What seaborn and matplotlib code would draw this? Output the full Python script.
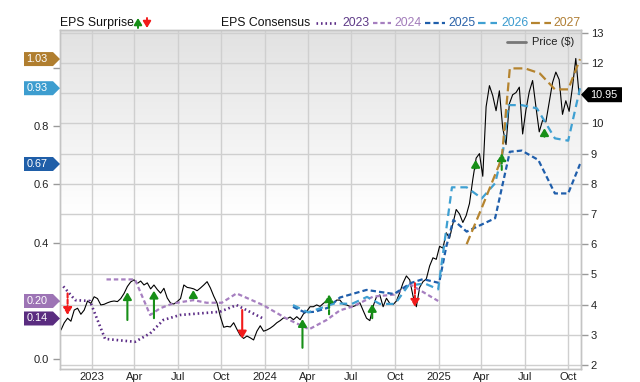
import numpy as np
import pandas as pd
import matplotlib
matplotlib.use("Agg")
import matplotlib.pyplot as plt
import matplotlib.dates as mdates
import matplotlib.transforms as mtransforms
from matplotlib.patches import Polygon
from matplotlib.lines import Line2D
from matplotlib.ticker import FuncFormatter
import seaborn as sns

# ---------------- data ----------------
price_start = "2022-10-28"
price_values = [
    3.16, 3.40, 3.55, 3.45, 3.82, 3.88, 3.68, 3.82, 4.12, 4.04,
    4.26, 4.20, 3.99, 4.01, 4.06, 4.10, 4.12, 4.10, 4.20, 4.37,
    4.60, 4.75, 4.82, 4.70, 4.78, 4.65, 4.72, 4.52, 4.65, 4.50,
    4.38, 4.54, 4.22, 4.05, 4.02, 4.10, 4.20, 4.65, 4.57, 4.55,
    4.52, 4.46, 4.55, 4.65, 4.76, 4.55, 4.28, 4.05, 3.60, 3.25,
    3.28, 3.26, 3.40, 3.18, 2.98, 2.88, 2.96, 2.90, 2.83, 3.12,
    3.30, 3.12, 3.16, 3.22, 3.30, 3.40, 3.47, 3.56, 3.53, 3.59,
    3.50, 3.60, 3.50, 3.69, 3.78, 3.93, 3.93, 3.99, 3.94, 4.04,
    4.12, 4.03, 4.05, 4.15, 4.15, 4.01, 3.99, 3.94, 3.94, 3.98,
    4.06, 3.80, 3.55, 3.47, 3.95, 4.26, 4.32, 3.93, 4.21, 4.04,
    4.00, 4.12, 4.40, 4.72, 4.95, 4.82, 4.28, 3.93, 4.57, 4.76,
    4.85, 5.28, 5.55, 5.50, 5.93, 5.87, 6.38, 6.20, 6.67, 7.15,
    7.00, 6.72, 6.95, 7.35, 8.15, 8.85, 9.00, 8.25, 10.55, 11.25,
    10.92, 10.42, 11.08, 9.85, 9.30, 10.65, 10.95, 11.02, 11.20, 9.65,
    10.45, 11.05, 11.42, 10.55, 9.72, 10.10, 10.05, 10.70, 11.35, 11.70,
    11.45, 10.30, 10.75, 10.40, 11.20, 12.15, 10.95,
]

c2023_dates = ["2022-11-02", "2022-11-27", "2022-12-28", "2023-01-29", "2023-04-02",
               "2023-05-04", "2023-06-01", "2023-07-06", "2023-09-28", "2023-11-02",
               "2023-12-28"]
c2023_values = [0.25, 0.203, 0.20, 0.07, 0.06, 0.089, 0.135, 0.152, 0.163, 0.186, 0.14]

c2024_dates = ["2023-02-01", "2023-04-02", "2023-05-04", "2023-05-25", "2023-06-22",
               "2023-08-03", "2023-08-31", "2023-10-02", "2023-11-02", "2023-12-28",
               "2024-02-15", "2024-04-03", "2024-05-10", "2024-06-07", "2024-07-02",
               "2024-08-16", "2024-09-29", "2024-11-02", "2024-12-31"]
c2024_values = [0.274, 0.274, 0.152, 0.175, 0.192, 0.203, 0.194, 0.194, 0.226, 0.186,
                0.14, 0.103, 0.135, 0.168, 0.18, 0.215, 0.222, 0.257, 0.20]

c2025_dates = ["2024-02-29", "2024-03-25", "2024-04-15", "2024-05-13", "2024-06-07",
               "2024-08-02", "2024-09-29", "2024-11-04", "2024-11-29", "2025-01-02",
               "2025-01-17", "2025-02-01", "2025-03-01", "2025-04-30", "2025-05-31",
               "2025-06-25", "2025-07-30", "2025-09-03", "2025-10-01", "2025-10-26"]
c2025_values = [0.18, 0.161, 0.163, 0.177, 0.212, 0.238, 0.224, 0.262, 0.275, 0.262,
                0.386, 0.478, 0.438, 0.484, 0.712, 0.716, 0.684, 0.569, 0.569, 0.67]

c2026_dates = ["2024-02-29", "2024-04-01", "2024-05-27", "2024-07-02", "2024-08-03",
               "2024-08-30", "2024-10-01", "2024-10-29", "2024-12-03", "2024-12-31",
               "2025-01-29", "2025-03-01", "2025-04-02", "2025-04-30", "2025-05-17",
               "2025-05-28", "2025-06-25", "2025-07-27", "2025-09-03", "2025-10-01",
               "2025-10-26"]
c2026_values = [0.186, 0.161, 0.192, 0.19, 0.214, 0.19, 0.19, 0.253, 0.26, 0.24,
                0.59, 0.59, 0.552, 0.604, 0.718, 0.872, 0.872, 0.861, 0.758, 0.75, 0.93]

c2027_dates = ["2025-03-01", "2025-04-02", "2025-05-14", "2025-05-31", "2025-07-02",
               "2025-08-02", "2025-09-03", "2025-10-01", "2025-10-26"]
c2027_values = [0.395, 0.52, 0.69, 0.998, 0.998, 0.981, 0.926, 0.926, 1.03]

# EPS surprise arrows (drawn at the price line, in $)
surprise_dates = ["2022-11-11", "2023-03-17", "2023-05-12", "2023-08-03", "2023-11-14",
                  "2024-03-20", "2024-05-15", "2024-08-14", "2024-11-12", "2025-03-20",
                  "2025-05-14", "2025-08-12"]
surprise_from = [4.37, 3.49, 3.55, 4.21, 3.82, 2.57, 3.68, 3.55, 4.71, 8.51, 8.46, 9.56]
surprise_to = [3.66, 4.41, 4.46, 4.48, 2.88, 3.52, 4.34, 4.02, 3.93, 8.79, 9.01, 9.84]
surprise_dashed = [True, False, False, False, False, False, True, False, True, False, True, False]

years = ["2023", "2024", "2025", "2026", "2027"]
line_colors = ["#5b2c86", "#a67fc0", "#1f5eab", "#3fa0d2", "#b5842f"]
text_colors = ["#5e3a87", "#a27cba", "#2a62a8", "#3d9ccf", "#b07f35"]
badge_colors = ["#5a2c80", "#9d74b5", "#1f5ea8", "#3d9dcf", "#b07e2f"]
dash_patterns = [(0.6, 1.1), (2.0, 1.3), (2.4, 1.4), (3.4, 2.2), (4.0, 2.0)]
line_widths = [1.9, 1.6, 1.6, 1.6, 1.6]

series_dates = [c2023_dates, c2024_dates, c2025_dates, c2026_dates, c2027_dates]
series_values = [c2023_values, c2024_values, c2025_values, c2026_values, c2027_values]

# ---------------- style ----------------
sns.set_theme(style="white")
plt.rcParams["font.family"] = ["Liberation Sans", "DejaVu Sans"]

W, H = 640, 382
fig = plt.figure(figsize=(W / 100, H / 100), dpi=100)
fig.patch.set_facecolor("white")

L, R, T, B = 60, 581, 30, 369
rect = [L / W, 1 - B / H, (R - L) / W, (B - T) / H]

# gradient background
bg = fig.add_axes(rect, zorder=-1)
top_c = np.array([0.885, 0.885, 0.885])
t = np.linspace(0, 1, 200)
fade = np.clip(1 - t / 0.55, 0, 1)
grad = 1 - fade[:, None, None] * (1 - top_c[None, None, :])
grad = np.repeat(grad, 2, axis=1)
bg.imshow(grad, aspect="auto", extent=[0, 1, 0, 1], interpolation="bilinear")
bg.set_axis_off()

ax = fig.add_axes(rect)
ax.patch.set_visible(False)

price_df = pd.DataFrame({
    "date": pd.date_range(price_start, periods=len(price_values), freq="7D"),
    "price": price_values,
})

sns.lineplot(data=price_df, x="date", y="price", ax=ax, color="black", lw=0.8,
             estimator=None, sort=False, zorder=3)

ax_eps = ax.twinx()
ax_eps.patch.set_visible(False)

for yr, dts, vals, col, dp, lw in zip(years, series_dates, series_values, line_colors,
                                       dash_patterns, line_widths):
    df = pd.DataFrame({"date": pd.to_datetime(dts), "eps": vals})
    sns.lineplot(data=df, x="date", y="eps", ax=ax_eps, color=col, lw=lw,
                 estimator=None, sort=False, zorder=2)
    ln = ax_eps.get_lines()[-1]
    ln.set_linestyle((0, dp))
    ln.set_dash_capstyle("butt")

# limits
ax.set_xlim(pd.Timestamp("2022-10-26"), pd.Timestamp("2025-10-28"))
ax.set_ylim(1.868, 13.093)
ax_eps.set_ylim(-0.0333, 1.1297)

# arrows on top, in price units
astyle = "-|>,head_length=0.6,head_width=0.36"
for d, p0, p1, dsh in zip(surprise_dates, surprise_from, surprise_to, surprise_dashed):
    xn = mdates.date2num(pd.Timestamp(d))
    col = "#178f17" if p1 > p0 else "#f21a1a"
    ax_eps.annotate("", xy=(xn, p1), xytext=(xn, p0), xycoords=ax.transData,
                    textcoords=ax.transData,
                    arrowprops=dict(arrowstyle=astyle, mutation_scale=7, color=col, lw=1.5,
                                    shrinkA=0, shrinkB=0,
                                    linestyle=(0, (2, 1)) if dsh else "-"),
                    zorder=5)

# axes / ticks
def xfmt(x, pos):
    d = mdates.num2date(x)
    return str(d.year) if d.month == 1 else d.strftime("%b")

ax.xaxis.set_major_locator(mdates.MonthLocator(bymonth=[1, 4, 7, 10]))
ax.xaxis.set_major_formatter(FuncFormatter(xfmt))
ax.yaxis.tick_right()
price_ticks = list(range(2, 14))
ax.set_yticks(price_ticks)
price_last = price_values[-1]
ax.set_yticklabels(["" if abs(p - price_last) < 0.3 else str(p) for p in price_ticks])

last_vals = [v[-1] for v in series_values]
eps_ticks = [0.0, 0.2, 0.4, 0.6, 0.8, 1.0]
ax_eps.yaxis.tick_left()
ax_eps.set_yticks(eps_ticks)
ax_eps.set_yticklabels(["" if min(abs(e - v) for v in last_vals) < 0.045 else f"{e:.1f}"
                        for e in eps_ticks])

grid_c = "#cfcfcf"
ax.grid(True, color=grid_c, lw=1.0)
ax.set_axisbelow(True)
ax_eps.grid(False)
for a in (ax, ax_eps):
    a.set_xlabel("")
    a.set_ylabel("")
    for s in a.spines.values():
        s.set_color("#c4c4c4")
        s.set_linewidth(1.0)

ax.tick_params(axis="x", length=0, pad=2.5, labelsize=8, labelcolor="#222222")
ax.tick_params(axis="y", right=True, left=False, length=5, width=1, color="#9a9a9a",
               pad=2, labelsize=8, labelcolor="#222222")
ax_eps.tick_params(axis="y", left=True, right=False, length=5, width=1, color="#9a9a9a",
                   pad=3, labelsize=8, labelcolor="#222222")

# ---------------- legend (top) ----------------
def fx(px):
    return px / W

def fy(py):
    return 1 - py / H

fig.text(fx(60), fy(23), "EPS Surprise", fontsize=8.8, va="center", ha="left", color="#111111")
ax.annotate("", xy=(138, H - 18), xytext=(138, H - 28), xycoords="figure pixels",
            textcoords="figure pixels", annotation_clip=False,
            arrowprops=dict(arrowstyle=astyle, mutation_scale=6.5,
                            color="#178f17", lw=1.4, shrinkA=0, shrinkB=0))
ax.annotate("", xy=(147, H - 28), xytext=(147, H - 18), xycoords="figure pixels",
            textcoords="figure pixels", annotation_clip=False,
            arrowprops=dict(arrowstyle=astyle, mutation_scale=6.5,
                            color="#f21a1a", lw=1.4, shrinkA=0, shrinkB=0))
fig.text(fx(221), fy(23), "EPS Consensus", fontsize=8.8, va="center", ha="left", color="#111111")

leg_line_x = [(316, 336), (373, 391), (425, 445), (478, 497), (531, 551)]
leg_text_x = [342, 394, 448, 501, 553]
for yr, col, tcol, dp, lw, (x0, x1), tx in zip(years, line_colors, text_colors, dash_patterns,
                                                 line_widths, leg_line_x, leg_text_x):
    fig.add_artist(Line2D([fx(x0), fx(x1)], [fy(23), fy(23)], transform=fig.transFigure,
                          color=col, lw=lw, linestyle=(0, dp), dash_capstyle="butt"))
    fig.text(fx(tx), fy(23), yr, fontsize=8.8, va="center", ha="left", color=tcol)

# price legend inside plot
fig.add_artist(Line2D([fx(507), fx(526)], [fy(42), fy(42)], transform=fig.transFigure,
                      color="#777777", lw=2))
fig.text(fx(532), fy(42), "Price ($)", fontsize=8, va="center", ha="left", color="#222222")

# ---------------- badges ----------------
ident = mtransforms.IdentityTransform()
for val, col in zip(last_vals, badge_colors):
    yc = ax_eps.transData.transform((0, val))[1]
    poly = Polygon([(24, yc - 7), (53, yc - 7), (60, yc), (53, yc + 7), (24, yc + 7)],
                   closed=True, transform=ident, facecolor=col, edgecolor="none", zorder=10)
    fig.add_artist(poly)
    fig.text(37, yc, f"{val:.2f}", transform=ident, fontsize=7.8, color="white",
             ha="center", va="center", zorder=11)

yc = ax.transData.transform((0, price_last))[1]
poly = Polygon([(581, yc), (588, yc - 7.5), (622, yc - 7.5), (622, yc + 7.5), (588, yc + 7.5)],
               closed=True, transform=ident, facecolor="black", edgecolor="none", zorder=10)
fig.add_artist(poly)
fig.text(604, yc, f"{price_last:.2f}", transform=ident, fontsize=7.8, color="white",
         ha="center", va="center", zorder=11)

fig.savefig("out.png", dpi=100)
